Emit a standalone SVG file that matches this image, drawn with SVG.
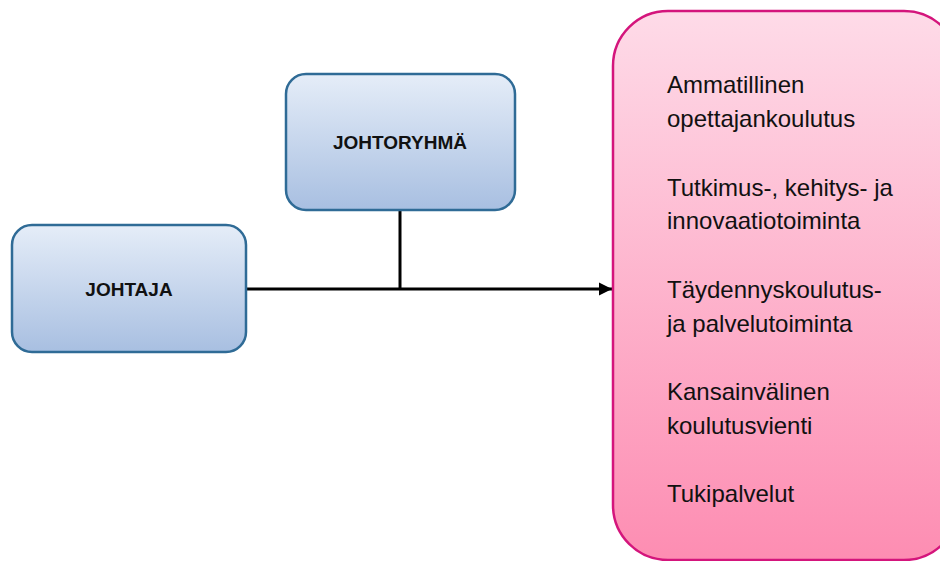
<svg xmlns="http://www.w3.org/2000/svg" width="940" height="561" viewBox="0 0 940 561">
<defs>
<linearGradient id="gBlue" x1="0" y1="0" x2="0" y2="1">
<stop offset="0" stop-color="#e5edf8"/>
<stop offset="1" stop-color="#a8bfe1"/>
</linearGradient>
<linearGradient id="gPink" x1="0" y1="0" x2="0" y2="1">
<stop offset="0" stop-color="#fedbe8"/>
<stop offset="1" stop-color="#fd8db2"/>
</linearGradient>
<marker id="arr" viewBox="0 0 10 10" refX="10" refY="5" markerWidth="4.5" markerHeight="4.5" orient="auto" markerUnits="strokeWidth">
<path d="M0,0 L10,5 L0,10 z" fill="#000"/>
</marker>
<style>
.blue{fill:url(#gBlue);stroke:#2f6b96;stroke-width:2.5}
.pink{fill:url(#gPink);stroke:#d4157c;stroke-width:2.5}
.lbl{font-family:"Liberation Sans",Arial,sans-serif;font-weight:bold;font-size:19px;fill:#111;text-anchor:middle}
.item{font-family:"Liberation Sans",Arial,sans-serif;font-size:24px;fill:#111}
.conn{stroke:#000;stroke-width:3;fill:none}
</style>
</defs>
<g id="connectors">
<line class="conn" x1="246" y1="289" x2="400" y2="289"/>
<line class="conn" x1="400" y1="210" x2="400" y2="289"/>
<line class="conn" x1="400" y1="289" x2="612" y2="289" marker-end="url(#arr)"/>
</g>
<g id="johtaja">
<rect class="blue" x="12" y="225" width="234" height="127" rx="20"/>
<text class="lbl" x="129" y="296">JOHTAJA</text>
</g>
<g id="johtoryhma">
<rect class="blue" x="286" y="74" width="229" height="136" rx="20"/>
<text class="lbl" x="400" y="149">JOHTORYHMÄ</text>
</g>
<g id="toiminnot">
<rect class="pink" x="613" y="11" width="346" height="549" rx="55"/>
<text class="item" x="667" y="93">Ammatillinen</text>
<text class="item" x="667" y="127">opettajankoulutus</text>
<text class="item" x="667" y="196">Tutkimus-, kehitys- ja</text>
<text class="item" x="667" y="229">innovaatiotoiminta</text>
<text class="item" x="667" y="298">Täydennyskoulutus-</text>
<text class="item" x="667" y="332">ja palvelutoiminta</text>
<text class="item" x="667" y="400">Kansainvälinen</text>
<text class="item" x="667" y="434">koulutusvienti</text>
<text class="item" x="667" y="502">Tukipalvelut</text>
</g>
</svg>
